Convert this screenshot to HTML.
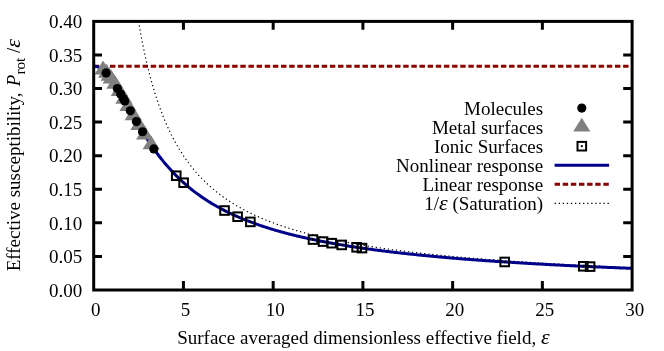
<!DOCTYPE html>
<html><head><meta charset="utf-8"><style>
html,body{margin:0;padding:0;background:#fff;}
body{width:664px;height:351px;overflow:hidden;}
svg{display:block;will-change:transform;}
text{font-family:"Liberation Serif",serif;font-size:19px;fill:#000;}
</style></head><body>
<svg width="664" height="351" viewBox="0 0 664 351">
<rect width="664" height="351" fill="#fff"/>

<line x1="93.70" y1="66.17" x2="632.10" y2="66.17" stroke="#8b0000" stroke-width="3" stroke-dasharray="5.43 2.715"/>
<polyline points="138.57,21.40 139.80,28.59 141.03,35.40 142.27,41.87 143.50,48.02 144.74,53.87 145.97,59.44 147.20,64.76 148.44,69.84 149.67,74.69 150.91,79.33 152.14,83.78 153.37,88.05 154.61,92.14 155.84,96.06 157.07,99.84 158.31,103.47 159.54,106.97 160.78,110.33 162.01,113.58 163.24,116.71 164.48,119.73 165.71,122.65 166.94,125.47 168.18,128.19 169.41,130.83 170.65,133.38 171.88,135.85 173.11,138.25 174.35,140.57 175.58,142.82 176.82,145.01 178.05,147.13 179.28,149.19 180.52,151.19 181.75,153.13 182.98,155.03 184.22,156.86 185.45,158.66 186.69,160.40 187.92,162.10 189.15,163.75 190.39,165.36 191.62,166.93 192.86,168.46 194.09,169.96 195.32,171.41 196.56,172.84 197.79,174.22 199.02,175.58 200.26,176.91 201.49,178.20 202.73,179.47 203.96,180.70 205.19,181.91 206.43,183.09 207.66,184.25 208.90,185.38 210.13,186.49 211.36,187.58 212.60,188.64 213.83,189.68 215.06,190.70 216.30,191.70 217.53,192.68 218.77,193.64 220.00,194.58 221.23,195.51 222.47,196.41 223.70,197.30 224.94,198.17 226.17,199.03 227.40,199.87 228.64,200.69 229.87,201.50 231.10,202.29 232.34,203.07 233.57,203.84 234.81,204.59 236.04,205.33 237.27,206.06 238.51,206.78 239.74,207.48 240.97,208.17 242.21,208.85 243.44,209.52 244.68,210.18 245.91,210.83 247.14,211.46 248.38,212.09 249.61,212.71 250.85,213.31 252.08,213.91 253.31,214.50 254.55,215.08 255.78,215.65 257.01,216.21 258.25,216.76 259.48,217.31 260.72,217.84 261.95,218.37 263.18,218.89 264.42,219.41 265.65,219.92 266.89,220.41 268.12,220.91 269.35,221.39 270.59,221.87 271.82,222.34 273.05,222.81 274.29,223.27 275.52,223.72 276.76,224.17 277.99,224.61 279.22,225.04 280.46,225.47 281.69,225.89 282.93,226.31 284.16,226.73 285.39,227.13 286.63,227.53 287.86,227.93 289.09,228.32 290.33,228.71 291.56,229.09 292.80,229.47 294.03,229.84 295.26,230.21 296.50,230.58 297.73,230.93 298.96,231.29 300.20,231.64 301.43,231.99 302.67,232.33 303.90,232.67 305.13,233.00 306.37,233.33 307.60,233.66 308.84,233.98 310.07,234.30 311.30,234.62 312.54,234.93 313.77,235.24 315.00,235.54 316.24,235.85 317.47,236.15 318.71,236.44 319.94,236.73 321.17,237.02 322.41,237.31 323.64,237.59 324.88,237.87 326.11,238.15 327.34,238.42 328.58,238.69 329.81,238.96 331.04,239.22 332.28,239.49 333.51,239.75 334.75,240.00 335.98,240.26 337.21,240.51 338.45,240.76 339.68,241.01 340.92,241.25 342.15,241.49 343.38,241.73 344.62,241.97 345.85,242.21 347.08,242.44 348.32,242.67 349.55,242.90 350.79,243.12 352.02,243.35 353.25,243.57 354.49,243.79 355.72,244.01 356.96,244.22 358.19,244.44 359.42,244.65 360.66,244.86 361.89,245.06 363.12,245.27 364.36,245.47 365.59,245.68 366.83,245.88 368.06,246.08 369.29,246.27 370.53,246.47 371.76,246.66 373.00,246.85 374.23,247.04 375.46,247.23 376.70,247.42 377.93,247.60 379.16,247.78 380.40,247.97 381.63,248.15 382.87,248.32 384.10,248.50 385.33,248.68 386.57,248.85 387.80,249.02 389.03,249.19 390.27,249.36 391.50,249.53 392.74,249.70 393.97,249.87 395.20,250.03 396.44,250.19 397.67,250.35 398.91,250.51 400.14,250.67 401.37,250.83 402.61,250.99 403.84,251.14 405.07,251.30 406.31,251.45 407.54,251.60 408.78,251.75 410.01,251.90 411.24,252.05 412.48,252.20 413.71,252.34 414.95,252.49 416.18,252.63 417.41,252.77 418.65,252.91 419.88,253.05 421.11,253.19 422.35,253.33 423.58,253.47 424.82,253.60 426.05,253.74 427.28,253.87 428.52,254.01 429.75,254.14 430.99,254.27 432.22,254.40 433.45,254.53 434.69,254.66 435.92,254.79 437.15,254.91 438.39,255.04 439.62,255.16 440.86,255.29 442.09,255.41 443.32,255.53 444.56,255.65 445.79,255.77 447.02,255.89 448.26,256.01 449.49,256.13 450.73,256.25 451.96,256.36 453.19,256.48 454.43,256.59 455.66,256.71 456.90,256.82 458.13,256.93 459.36,257.04 460.60,257.15 461.83,257.26 463.06,257.37 464.30,257.48 465.53,257.59 466.77,257.70 468.00,257.80 469.23,257.91 470.47,258.01 471.70,258.12 472.94,258.22 474.17,258.33 475.40,258.43 476.64,258.53 477.87,258.63 479.10,258.73 480.34,258.83 481.57,258.93 482.81,259.03 484.04,259.13 485.27,259.22 486.51,259.32 487.74,259.42 488.98,259.51 490.21,259.61 491.44,259.70 492.68,259.79 493.91,259.89 495.14,259.98 496.38,260.07 497.61,260.16 498.85,260.25 500.08,260.35 501.31,260.43 502.55,260.52 503.78,260.61 505.02,260.70 506.25,260.79 507.48,260.88 508.72,260.96 509.95,261.05 511.18,261.13 512.42,261.22 513.65,261.30 514.89,261.39 516.12,261.47 517.35,261.55 518.59,261.64 519.82,261.72 521.05,261.80 522.29,261.88 523.52,261.96 524.76,262.04 525.99,262.12 527.22,262.20 528.46,262.28 529.69,262.36 530.93,262.44 532.16,262.51 533.39,262.59 534.63,262.67 535.86,262.74 537.09,262.82 538.33,262.90 539.56,262.97 540.80,263.05 542.03,263.12 543.26,263.19 544.50,263.27 545.73,263.34 546.97,263.41 548.20,263.48 549.43,263.56 550.67,263.63 551.90,263.70 553.13,263.77 554.37,263.84 555.60,263.91 556.84,263.98 558.07,264.05 559.30,264.12 560.54,264.19 561.77,264.25 563.01,264.32 564.24,264.39 565.47,264.46 566.71,264.52 567.94,264.59 569.17,264.65 570.41,264.72 571.64,264.79 572.88,264.85 574.11,264.91 575.34,264.98 576.58,265.04 577.81,265.11 579.05,265.17 580.28,265.23 581.51,265.30 582.75,265.36 583.98,265.42 585.21,265.48 586.45,265.54 587.68,265.60 588.92,265.66 590.15,265.73 591.38,265.79 592.62,265.85 593.85,265.90 595.09,265.96 596.32,266.02 597.55,266.08 598.79,266.14 600.02,266.20 601.25,266.26 602.49,266.31 603.72,266.37 604.96,266.43 606.19,266.49 607.42,266.54 608.66,266.60 609.89,266.65 611.12,266.71 612.36,266.76 613.59,266.82 614.83,266.87 616.06,266.93 617.29,266.98 618.53,267.04 619.76,267.09 621.00,267.15 622.23,267.20 623.46,267.25 624.70,267.30 625.93,267.36 627.16,267.41 628.40,267.46 629.63,267.51 630.87,267.57 632.10,267.62" fill="none" stroke="#000" stroke-width="1.15" stroke-dasharray="1.3 2.77"/>
<polyline points="93.70,66.17 95.05,66.25 96.39,66.50 97.74,66.92 99.08,67.50 100.43,68.24 101.78,69.13 103.12,70.17 104.47,71.36 105.81,72.68 107.16,74.13 108.51,75.71 109.85,77.39 111.20,79.18 112.54,81.06 113.89,83.03 115.24,85.08 116.58,87.19 117.93,89.37 119.27,91.60 120.62,93.87 121.97,96.17 123.31,98.51 124.66,100.87 126.00,103.24 127.35,105.62 128.70,108.01 130.04,110.39 131.39,112.77 132.73,115.14 134.08,117.49 135.43,119.83 136.77,122.14 138.12,124.44 139.46,126.70 140.81,128.94 142.16,131.15 143.50,133.33 144.85,135.48 146.19,137.59 147.54,139.67 148.89,141.71 150.23,143.72 151.58,145.69 152.92,147.62 154.27,149.52 155.62,151.39 156.96,153.21 158.31,155.01 159.65,156.76 161.00,158.49 162.35,160.17 163.69,161.83 165.04,163.45 166.38,165.04 167.73,166.59 169.08,168.11 170.42,169.61 171.77,171.07 173.11,172.50 174.46,173.90 175.81,175.28 177.15,176.62 178.50,177.94 179.84,179.23 181.19,180.50 182.54,181.74 183.88,182.95 185.23,184.14 186.57,185.31 187.92,186.45 189.27,187.57 190.61,188.67 191.96,189.75 193.30,190.81 194.65,191.84 196.00,192.86 197.34,193.86 198.69,194.83 200.03,195.79 201.38,196.73 202.73,197.66 204.07,198.57 205.42,199.46 206.76,200.33 208.11,201.19 209.46,202.03 210.80,202.86 212.15,203.67 213.49,204.47 214.84,205.26 216.19,206.03 217.53,206.79 218.88,207.53 220.22,208.26 221.57,208.98 222.92,209.69 224.26,210.39 225.61,211.07 226.95,211.74 228.30,212.40 229.65,213.06 230.99,213.70 232.34,214.33 233.68,214.95 235.03,215.56 236.38,216.16 237.72,216.75 239.07,217.33 240.41,217.91 241.76,218.47 243.11,219.03 244.45,219.58 245.80,220.12 247.14,220.65 248.49,221.17 249.84,221.69 251.18,222.20 252.53,222.70 253.87,223.19 255.22,223.68 256.57,224.16 257.91,224.63 259.26,225.10 260.60,225.56 261.95,226.01 263.30,226.46 264.64,226.90 265.99,227.34 267.33,227.77 268.68,228.19 270.03,228.61 271.37,229.02 272.72,229.43 274.06,229.83 275.41,230.23 276.76,230.62 278.10,231.01 279.45,231.39 280.79,231.77 282.14,232.14 283.49,232.51 284.83,232.87 286.18,233.23 287.52,233.58 288.87,233.93 290.22,234.28 291.56,234.62 292.91,234.95 294.25,235.29 295.60,235.62 296.95,235.94 298.29,236.26 299.64,236.58 300.98,236.90 302.33,237.21 303.68,237.51 305.02,237.82 306.37,238.12 307.71,238.41 309.06,238.70 310.41,238.99 311.75,239.28 313.10,239.56 314.44,239.84 315.79,240.12 317.14,240.40 318.48,240.67 319.83,240.94 321.17,241.20 322.52,241.46 323.87,241.72 325.21,241.98 326.56,242.24 327.90,242.49 329.25,242.74 330.60,242.98 331.94,243.23 333.29,243.47 334.63,243.71 335.98,243.94 337.33,244.18 338.67,244.41 340.02,244.64 341.36,244.87 342.71,245.09 344.06,245.31 345.40,245.54 346.75,245.75 348.09,245.97 349.44,246.18 350.79,246.40 352.13,246.61 353.48,246.81 354.82,247.02 356.17,247.22 357.52,247.43 358.86,247.63 360.21,247.83 361.55,248.02 362.90,248.22 364.25,248.41 365.59,248.60 366.94,248.79 368.28,248.98 369.63,249.17 370.98,249.35 372.32,249.53 373.67,249.71 375.01,249.89 376.36,250.07 377.71,250.25 379.05,250.42 380.40,250.60 381.74,250.77 383.09,250.94 384.44,251.11 385.78,251.28 387.13,251.44 388.47,251.61 389.82,251.77 391.17,251.93 392.51,252.09 393.86,252.25 395.20,252.41 396.55,252.57 397.90,252.72 399.24,252.87 400.59,253.03 401.93,253.18 403.28,253.33 404.63,253.48 405.97,253.63 407.32,253.77 408.66,253.92 410.01,254.06 411.36,254.21 412.70,254.35 414.05,254.49 415.39,254.63 416.74,254.77 418.09,254.90 419.43,255.04 420.78,255.18 422.12,255.31 423.47,255.44 424.82,255.58 426.16,255.71 427.51,255.84 428.85,255.97 430.20,256.10 431.55,256.22 432.89,256.35 434.24,256.48 435.58,256.60 436.93,256.72 438.28,256.85 439.62,256.97 440.97,257.09 442.31,257.21 443.66,257.33 445.01,257.45 446.35,257.57 447.70,257.68 449.04,257.80 450.39,257.91 451.74,258.03 453.08,258.14 454.43,258.25 455.77,258.37 457.12,258.48 458.47,258.59 459.81,258.70 461.16,258.81 462.50,258.91 463.85,259.02 465.20,259.13 466.54,259.23 467.89,259.34 469.23,259.44 470.58,259.55 471.93,259.65 473.27,259.75 474.62,259.85 475.96,259.95 477.31,260.05 478.66,260.15 480.00,260.25 481.35,260.35 482.69,260.45 484.04,260.55 485.39,260.64 486.73,260.74 488.08,260.83 489.42,260.93 490.77,261.02 492.12,261.11 493.46,261.21 494.81,261.30 496.15,261.39 497.50,261.48 498.85,261.57 500.19,261.66 501.54,261.75 502.88,261.84 504.23,261.93 505.58,262.02 506.92,262.10 508.27,262.19 509.61,262.28 510.96,262.36 512.31,262.45 513.65,262.53 515.00,262.61 516.34,262.70 517.69,262.78 519.04,262.86 520.38,262.94 521.73,263.03 523.07,263.11 524.42,263.19 525.77,263.27 527.11,263.35 528.46,263.42 529.80,263.50 531.15,263.58 532.50,263.66 533.84,263.74 535.19,263.81 536.53,263.89 537.88,263.96 539.23,264.04 540.57,264.12 541.92,264.19 543.26,264.26 544.61,264.34 545.96,264.41 547.30,264.48 548.65,264.56 549.99,264.63 551.34,264.70 552.69,264.77 554.03,264.84 555.38,264.91 556.72,264.98 558.07,265.05 559.42,265.12 560.76,265.19 562.11,265.26 563.45,265.33 564.80,265.39 566.15,265.46 567.49,265.53 568.84,265.59 570.18,265.66 571.53,265.73 572.88,265.79 574.22,265.86 575.57,265.92 576.91,265.99 578.26,266.05 579.61,266.11 580.95,266.18 582.30,266.24 583.64,266.30 584.99,266.37 586.34,266.43 587.68,266.49 589.03,266.55 590.37,266.61 591.72,266.67 593.07,266.73 594.41,266.79 595.76,266.85 597.10,266.91 598.45,266.97 599.80,267.03 601.14,267.09 602.49,267.15 603.83,267.21 605.18,267.27 606.53,267.32 607.87,267.38 609.22,267.44 610.56,267.49 611.91,267.55 613.26,267.61 614.60,267.66 615.95,267.72 617.29,267.77 618.64,267.83 619.99,267.88 621.33,267.94 622.68,267.99 624.02,268.04 625.37,268.10 626.72,268.15 628.06,268.20 629.41,268.26 630.75,268.31 632.10,268.36" fill="none" stroke="#00008b" stroke-width="3"/>
<polygon points="103.03,60.60 94.43,74.40 111.63,74.40" fill="#808080"/>
<polygon points="106.62,64.04 98.02,77.84 115.22,77.84" fill="#808080"/>
<polygon points="109.13,66.98 100.53,80.78 117.73,80.78" fill="#808080"/>
<polygon points="111.29,69.80 102.69,83.60 119.89,83.60" fill="#808080"/>
<polygon points="114.88,75.03 106.28,88.83 123.48,88.83" fill="#808080"/>
<polygon points="119.36,82.25 110.76,96.05 127.96,96.05" fill="#808080"/>
<polygon points="123.85,89.95 115.25,103.75 132.45,103.75" fill="#808080"/>
<polygon points="127.98,97.23 119.38,111.03 136.58,111.03" fill="#808080"/>
<polygon points="133.18,106.42 124.58,120.22 141.78,120.22" fill="#808080"/>
<polygon points="138.93,116.30 130.33,130.10 147.53,130.10" fill="#808080"/>
<polygon points="144.67,125.69 136.07,139.49 153.27,139.49" fill="#808080"/>
<polygon points="151.13,135.53 142.53,149.33 159.73,149.33" fill="#808080"/>
<circle cx="106.08" cy="72.96" r="4.6" fill="#000"/>
<circle cx="117.39" cy="88.49" r="4.6" fill="#000"/>
<circle cx="120.80" cy="94.17" r="4.6" fill="#000"/>
<circle cx="123.49" cy="98.82" r="4.6" fill="#000"/>
<circle cx="124.75" cy="101.02" r="4.6" fill="#000"/>
<circle cx="130.31" cy="110.87" r="4.6" fill="#000"/>
<circle cx="136.41" cy="121.53" r="4.6" fill="#000"/>
<circle cx="142.51" cy="131.74" r="4.6" fill="#000"/>
<circle cx="153.82" cy="148.89" r="4.6" fill="#000"/>
<rect x="171.95" y="171.43" width="8.60" height="8.60" fill="none" stroke="#000" stroke-width="2"/><circle cx="176.25" cy="175.73" r="1.1" fill="#000"/>
<rect x="179.31" y="178.41" width="8.60" height="8.60" fill="none" stroke="#000" stroke-width="2"/><circle cx="183.61" cy="182.71" r="1.1" fill="#000"/>
<rect x="220.23" y="206.22" width="8.60" height="8.60" fill="none" stroke="#000" stroke-width="2"/><circle cx="224.53" cy="210.52" r="1.1" fill="#000"/>
<rect x="233.33" y="212.41" width="8.60" height="8.60" fill="none" stroke="#000" stroke-width="2"/><circle cx="237.63" cy="216.71" r="1.1" fill="#000"/>
<rect x="246.07" y="217.59" width="8.60" height="8.60" fill="none" stroke="#000" stroke-width="2"/><circle cx="250.37" cy="221.89" r="1.1" fill="#000"/>
<rect x="308.71" y="235.25" width="8.60" height="8.60" fill="none" stroke="#000" stroke-width="2"/><circle cx="313.01" cy="239.55" r="1.1" fill="#000"/>
<rect x="318.76" y="237.27" width="8.60" height="8.60" fill="none" stroke="#000" stroke-width="2"/><circle cx="323.06" cy="241.57" r="1.1" fill="#000"/>
<rect x="327.37" y="238.88" width="8.60" height="8.60" fill="none" stroke="#000" stroke-width="2"/><circle cx="331.67" cy="243.18" r="1.1" fill="#000"/>
<rect x="337.42" y="240.63" width="8.60" height="8.60" fill="none" stroke="#000" stroke-width="2"/><circle cx="341.72" cy="244.93" r="1.1" fill="#000"/>
<rect x="352.32" y="242.99" width="8.60" height="8.60" fill="none" stroke="#000" stroke-width="2"/><circle cx="356.62" cy="247.29" r="1.1" fill="#000"/>
<rect x="357.70" y="243.79" width="8.60" height="8.60" fill="none" stroke="#000" stroke-width="2"/><circle cx="362.00" cy="248.09" r="1.1" fill="#000"/>
<rect x="500.38" y="257.66" width="8.60" height="8.60" fill="none" stroke="#000" stroke-width="2"/><circle cx="504.68" cy="261.96" r="1.1" fill="#000"/>
<rect x="578.99" y="261.99" width="8.60" height="8.60" fill="none" stroke="#000" stroke-width="2"/><circle cx="583.29" cy="266.29" r="1.1" fill="#000"/>
<rect x="585.80" y="262.30" width="8.60" height="8.60" fill="none" stroke="#000" stroke-width="2"/><circle cx="590.10" cy="266.60" r="1.1" fill="#000"/>
<rect x="93.70" y="21.40" width="538.40" height="268.60" fill="none" stroke="#000" stroke-width="3"/>
<path d="M183.43 290.00V281.10M183.43 21.40V29.70" stroke="#000" stroke-width="3" fill="none"/>
<path d="M273.17 290.00V281.10M273.17 21.40V29.70" stroke="#000" stroke-width="3" fill="none"/>
<path d="M362.90 290.00V281.10M362.90 21.40V29.70" stroke="#000" stroke-width="3" fill="none"/>
<path d="M452.63 290.00V281.10M452.63 21.40V29.70" stroke="#000" stroke-width="3" fill="none"/>
<path d="M542.37 290.00V281.10M542.37 21.40V29.70" stroke="#000" stroke-width="3" fill="none"/>
<path d="M93.70 256.43H102.00M632.10 256.43H623.20" stroke="#000" stroke-width="3" fill="none"/>
<path d="M93.70 222.85H102.00M632.10 222.85H623.20" stroke="#000" stroke-width="3" fill="none"/>
<path d="M93.70 189.27H102.00M632.10 189.27H623.20" stroke="#000" stroke-width="3" fill="none"/>
<path d="M93.70 155.70H102.00M632.10 155.70H623.20" stroke="#000" stroke-width="3" fill="none"/>
<path d="M93.70 122.12H102.00M632.10 122.12H623.20" stroke="#000" stroke-width="3" fill="none"/>
<path d="M93.70 88.55H102.00M632.10 88.55H623.20" stroke="#000" stroke-width="3" fill="none"/>
<path d="M93.70 54.97H102.00M632.10 54.97H623.20" stroke="#000" stroke-width="3" fill="none"/>
<text x="82.3" y="296.70" text-anchor="end">0.00</text>
<text x="82.3" y="263.12" text-anchor="end">0.05</text>
<text x="82.3" y="229.55" text-anchor="end">0.10</text>
<text x="82.3" y="195.97" text-anchor="end">0.15</text>
<text x="82.3" y="162.40" text-anchor="end">0.20</text>
<text x="82.3" y="128.82" text-anchor="end">0.25</text>
<text x="82.3" y="95.25" text-anchor="end">0.30</text>
<text x="82.3" y="61.67" text-anchor="end">0.35</text>
<text x="82.3" y="28.10" text-anchor="end">0.40</text>
<text x="95.70" y="315.6" text-anchor="middle">0</text>
<text x="185.43" y="315.6" text-anchor="middle">5</text>
<text x="275.17" y="315.6" text-anchor="middle">10</text>
<text x="364.90" y="315.6" text-anchor="middle">15</text>
<text x="454.63" y="315.6" text-anchor="middle">20</text>
<text x="544.67" y="315.6" text-anchor="middle">25</text>
<text x="634.80" y="315.6" text-anchor="middle">30</text>
<text x="363.4" y="343.5" text-anchor="middle">Surface averaged dimensionless effective field, <tspan font-style="italic" font-size="22">ε</tspan></text>
<text transform="translate(19.6,271.3) rotate(-90)" text-anchor="start">Effective susceptibility, <tspan font-style="italic" dx="1.5">P</tspan><tspan font-size="15.2" dy="5">rot</tspan><tspan dy="-5"> /</tspan><tspan font-style="italic" font-size="22">ε</tspan></text>
<text x="543.2" y="115.10" text-anchor="end">Molecules</text>
<text x="543.2" y="134.15" text-anchor="end">Metal surfaces</text>
<text x="543.2" y="153.20" text-anchor="end">Ionic Surfaces</text>
<text x="543.2" y="172.25" text-anchor="end">Nonlinear response</text>
<text x="543.2" y="191.30" text-anchor="end">Linear response</text>
<text x="543.2" y="210.45" text-anchor="end">1/<tspan font-style="italic" font-size="22">ε</tspan> (Saturation)</text>
<circle cx="581.8" cy="108.10" r="4.6" fill="#000"/>
<polygon points="581.80,117.65 573.20,131.45 590.40,131.45" fill="#808080"/>
<rect x="577.50" y="141.90" width="8.60" height="8.60" fill="none" stroke="#000" stroke-width="2"/><circle cx="581.80" cy="146.20" r="1.1" fill="#000"/>
<line x1="554.6" x2="609.1" y1="165.25" y2="165.25" stroke="#00008b" stroke-width="3"/>
<line x1="554.6" x2="609.1" y1="184.30" y2="184.30" stroke="#8b0000" stroke-width="3" stroke-dasharray="5.42 2.71"/>
<line x1="554.6" x2="609.1" y1="203.35" y2="203.35" stroke="#000" stroke-width="1.15" stroke-dasharray="1.3 2.77"/>
</svg></body></html>
